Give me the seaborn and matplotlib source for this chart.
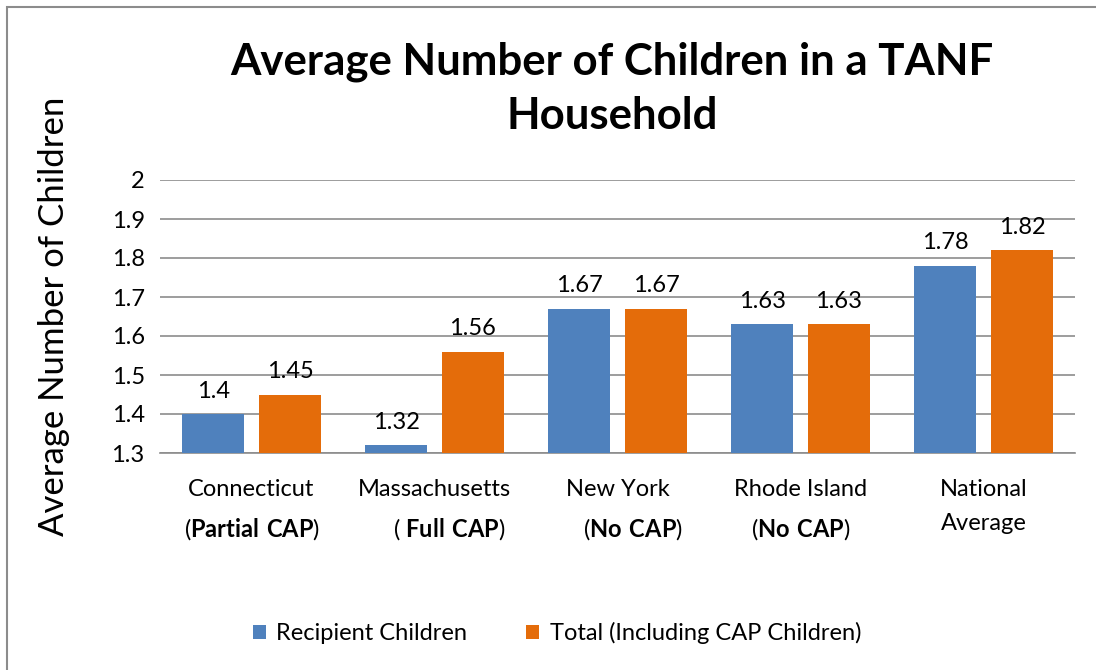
import matplotlib
matplotlib.use("Agg")
import matplotlib.pyplot as plt
import seaborn as sns
import pandas as pd
from matplotlib.patches import Rectangle

categories = ["Connecticut", "Massachusetts", "New York", "Rhode Island", "National Average"]
tick_labels = [
    "Connecticut\n(" + r"$\mathbf{Partial\ CAP}$" + ")",
    "Massachusetts\n     ( " + r"$\mathbf{Full\ CAP}$" + ")",
    "New York\n     (" + r"$\mathbf{No\ CAP}$" + ")",
    "Rhode Island\n(" + r"$\mathbf{No\ CAP}$" + ")",
    "National\nAverage",
]
series_names = ["Recipient Children", "Total (Including CAP Children)"]
recipient = [1.4, 1.32, 1.67, 1.63, 1.78]
total = [1.45, 1.56, 1.67, 1.63, 1.82]
value_labels_recipient = ["1.4", "1.32", "1.67", "1.63", "1.78"]
value_labels_total = ["1.45", "1.56", "1.67", "1.63", "1.82"]
y_ticks = [1.3, 1.4, 1.5, 1.6, 1.7, 1.8, 1.9, 2.0]
y_tick_labels = ["1.3", "1.4", "1.5", "1.6", "1.7", "1.8", "1.9", "2"]

df = pd.DataFrame({
    "Category": categories * 2,
    "Series": [series_names[0]] * 5 + [series_names[1]] * 5,
    "Value": recipient + total,
})

sns.set_style("white")
plt.rcParams["font.family"] = ["Lato", "DejaVu Sans"]
plt.rcParams["mathtext.fontset"] = "custom"
plt.rcParams["mathtext.bf"] = "Lato:bold"
plt.rcParams["mathtext.rm"] = "Lato"
for k in ["text.color", "axes.labelcolor", "xtick.color", "ytick.color"]:
    plt.rcParams[k] = "black"

fig = plt.figure(figsize=(10.96, 6.70), dpi=100)
ax = fig.add_axes([160 / 1096, 1 - 453 / 670, (1075 - 160) / 1096, (453 - 180) / 670])

palette = {series_names[0]: "#4F81BD", series_names[1]: "#E46C0A"}
sns.barplot(data=df, x="Category", y="Value", hue="Series", palette=palette,
            width=0.84, gap=0.2, ax=ax, saturation=1, legend=True,
            edgecolor="none", zorder=3)

ax.set_ylim(1.3, 2.0)
ax.set_yticks(y_ticks)
ax.set_yticklabels(y_tick_labels, fontsize=17)
ax.set_xticks(range(len(categories)))
ax.set_xticklabels(tick_labels, fontsize=17, linespacing=1.75)
ax.tick_params(axis="y", length=0, pad=11)
ax.tick_params(axis="x", length=0, pad=19)
ax.yaxis.grid(True, color="#8C8C8C", linewidth=1.2, zorder=0)
ax.set_axisbelow(True)
for s in ["top", "right", "left"]:
    ax.spines[s].set_visible(False)
ax.spines["bottom"].set_color("#8C8C8C")
ax.spines["bottom"].set_linewidth(1.2)
ax.set_xlabel("")
ax.set_ylabel("Average Number of Children", fontsize=25, labelpad=30)

for cont, labels in zip(ax.containers, [value_labels_recipient, value_labels_total]):
    ax.bar_label(cont, labels=labels, fontsize=17, padding=9)

fig.suptitle("Average Number of Children in a TANF\nHousehold", fontsize=31.5,
             fontweight="bold", x=612 / 1096, y=1 - 42 / 670, va="top", linespacing=1.42)

leg = ax.legend(loc="center", bbox_to_anchor=(557 / 1096, 1 - 633 / 670),
                bbox_transform=fig.transFigure, ncol=2, frameon=False, fontsize=17,
                handlelength=0.55, handleheight=0.55, columnspacing=2.5, handletextpad=0.45)

fig.patches.append(Rectangle((7 / 1096, -0.1), 1.2, 1.1 - 7 / 670, transform=fig.transFigure,
                             fill=False, edgecolor="#8C8C8C", linewidth=1.5))

fig.savefig("out.png", dpi=100)
